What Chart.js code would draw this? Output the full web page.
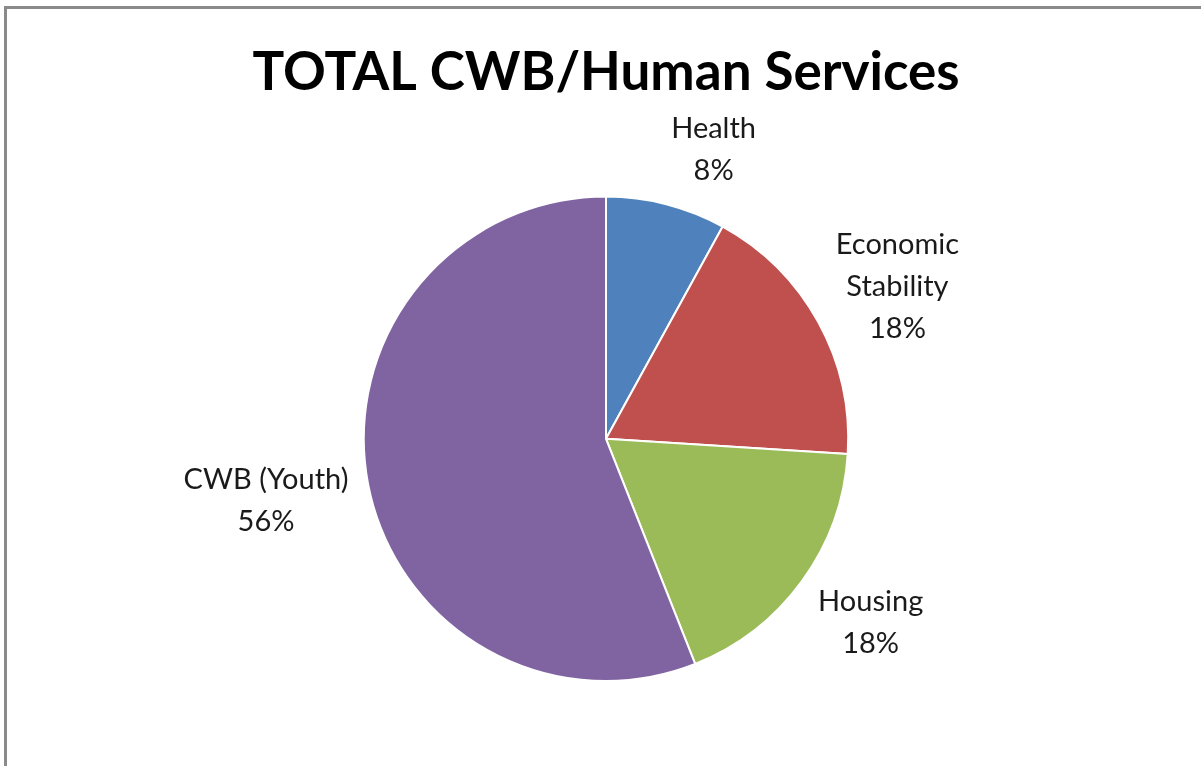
<!DOCTYPE html>
<html>
<head>
<meta charset="utf-8">
<script src="https://cdn.jsdelivr.net/npm/chart.js@4"></script>
<style>
  body { margin: 0; background: #fff; }
  #frame {
    position: absolute; left: 4px; top: 6px; width: 1300px; height: 900px;
    border-left: 3px solid #8a8a8a; border-top: 3px solid #8a8a8a;
    pointer-events: none;
  }
  #myChart { position: absolute; left: 0; top: 0; }
</style>
</head>
<body>
<canvas id="myChart" width="1201" height="766"></canvas>
<div id="frame"></div>
<script>
var categories = ["Health", "Economic Stability", "Housing", "CWB (Youth)"];
var labelLines = [["Health"], ["Economic", "Stability"], ["Housing"], ["CWB (Youth)"]];
var shares = [8, 18, 18, 56];
var colours = ["#4F81BD", "#C0504D", "#9BBB59", "#8064A2"];

// draws the "name / xx%" labels outside each slice, like excel's best fit
var outsideLabels = {
  id: 'outsideLabels',
  afterDatasetsDraw: function(chart) {
    var ctx = chart.ctx;
    var meta = chart.getDatasetMeta(0);
    var data = chart.data.datasets[0].data;
    var total = data.reduce(function(a, b) { return a + b; }, 0);
    var lineH = 42;
    ctx.save();
    ctx.font = '29px Lato';
    ctx.fillStyle = '#1a1a1a';
    ctx.textAlign = 'center';
    ctx.textBaseline = 'middle';
    meta.data.forEach(function(arc, i) {
      var lines = labelLines[i].concat([Math.round(data[i] / total * 100) + '%']);
      var w = 0;
      lines.forEach(function(l) { w = Math.max(w, ctx.measureText(l).width); });
      var h = lines.length * lineH;
      var mid = (arc.startAngle + arc.endAngle) / 2;
      var dx = Math.cos(mid), dy = Math.sin(mid);
      var ax = arc.x + dx * (arc.outerRadius + 20);
      var ay = arc.y + dy * (arc.outerRadius + 20);
      var cx = ax + Math.sign(dx) * w / 2;
      var cy = ay + dy * h / 2 + 5;
      lines.forEach(function(l, k) {
        ctx.fillText(l, cx, cy - h / 2 + lineH * (k + 0.5));
      });
    });
    ctx.restore();
  }
};

function init() {
  var ctx = document.getElementById('myChart').getContext('2d');
  var chart = new Chart(ctx, {
    type: 'pie',
    data: {
      labels: categories,
      datasets: [{
        data: shares,
        backgroundColor: colours,
        borderColor: '#ffffff',
        borderWidth: 2
      }]
    },
    options: {
      responsive: false,
      animation: false,
      layout: { padding: { left: 11, right: 0, top: 0, bottom: 84 } },
      plugins: {
        legend: { display: false },
        tooltip: { enabled: false },
        title: {
          display: true,
          text: 'TOTAL CWB/Human Services',
          color: '#000',
          font: { family: 'Lato', size: 53, weight: 'bold' },
          padding: { top: 41, bottom: 91 }
        }
      }
    },
    plugins: [outsideLabels]
  });
}

init();
</script>
</body>
</html>
